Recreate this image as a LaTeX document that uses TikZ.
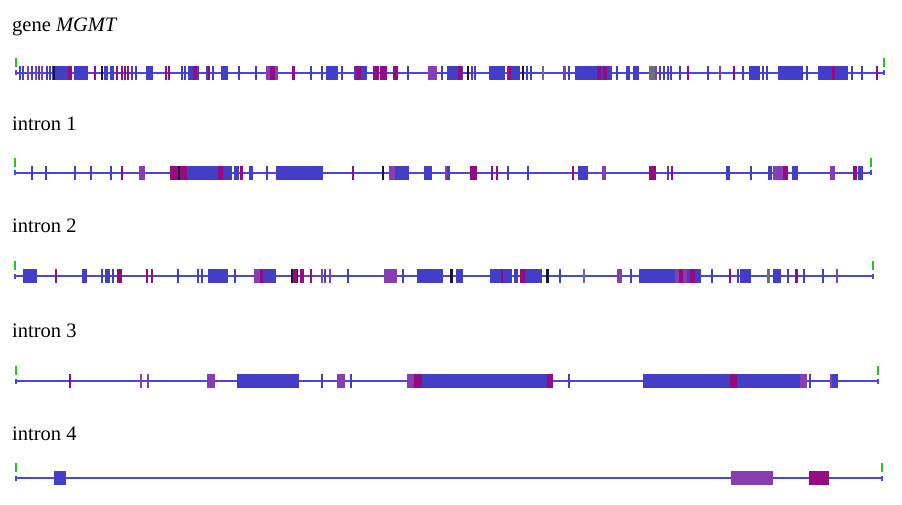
\documentclass[tikz,border=0pt]{standalone}
\usepackage{fontspec}
\setmainfont{Liberation Serif}
\usepackage{tikz}
\definecolor{cblue}{RGB}{66,62,200}
\definecolor{cmag}{RGB}{150,12,128}
\definecolor{cpur}{RGB}{136,62,176}
\definecolor{cdark}{RGB}{30,22,52}
\definecolor{cgray}{RGB}{112,110,124}
\definecolor{cline}{RGB}{72,72,224}
\definecolor{cgreen}{RGB}{30,200,30}
% one row of exons: y, blocks a/b/colour, thin bars x/colour
\newcommand{\exonrow}[3]{%
  \foreach \a/\b/\c in {#2} \fill[\c] (\a,#1-7) rectangle (\b,#1+7);
  \foreach \a/\c in {#3} \fill[\c] (\a-1.1,#1-7) rectangle (\a+1.1,#1+7);}

\begin{document}
\begin{tikzpicture}[x=1pt, y=-1pt,
    lbl/.style={anchor=base west, inner sep=0pt, font=\fontsize{20.5}{23}\selectfont},
    axis/.style={draw=cline, line width=1.4pt},
    endtick/.style={draw=cline, line width=1.2pt},
    gtick/.style={draw=cgreen, line width=1.3pt}
]
    \useasboundingbox (0,0) rectangle (902,505);

    % labels
    \node[lbl] (lbl0) at (12,32) {gene \textit{MGMT}};
    \node[lbl] (lbl1) at (12,131) {intron 1};
    \node[lbl] (lbl2) at (12,233) {intron 2};
    \node[lbl] (lbl3) at (12,337) {intron 3};
    \node[lbl] (lbl4) at (12,440) {intron 4};

    % track ends
    \coordinate (s0) at (16,73);  \coordinate (e0) at (884,73);
    \coordinate (s1) at (15,173); \coordinate (e1) at (871,173);
    \coordinate (s2) at (15,276); \coordinate (e2) at (873,276);
    \coordinate (s3) at (16,381); \coordinate (e3) at (878,381);
    \coordinate (s4) at (16,478); \coordinate (e4) at (882,478);

    \foreach \i in {0,...,4} {
        \draw[axis] (s\i) -- (e\i);
        \draw[endtick] ([yshift=-2.5pt]s\i) -- ([yshift=2.5pt]s\i);
        \draw[endtick] ([yshift=-2.5pt]e\i) -- ([yshift=2.5pt]e\i);
        \draw[gtick] ([yshift=6pt]s\i) -- ([yshift=15pt]s\i);
        \draw[gtick] ([yshift=6pt]e\i) -- ([yshift=15pt]e\i);
    }

    % gene MGMT
    \exonrow{73}{52/72/cblue, 53/55/cdark, 68/72/cmag, 74/88/cblue, 104/108/cblue,
        146/153/cblue, 188/199/cblue, 193/197/cmag, 221/228/cblue, 266/278/cpur,
        270/275/cmag, 292/295/cmag, 326/338/cblue, 354/367/cblue, 356/361/cmag,
        373/379/cmag, 380/387/cmag, 393/398/cmag, 428/437/cpur, 447/463/cblue,
        458/462/cmag, 467/469/cdark, 489/505/cblue, 507/520/cblue, 508/511/cmag,
        522/524/cdark, 563/566/cpur, 575/612/cblue, 597/601/cmag, 603/607/cmag,
        633/639/cblue, 649/655/cgray, 655/657/cpur, 749/760/cblue, 778/803/cblue,
        818/848/cblue, 832/835/cmag}
       {20/cblue, 23/cblue, 28/cpur, 32/cblue, 36/cpur, 39/cblue, 42/cpur, 47/cblue,
        50/cblue, 95/cmag, 102/cdark, 111/cblue, 113/cblue, 117/cmag, 122/cmag,
        125/cmag, 128/cmag, 132/cblue, 136/cblue, 166/cmag, 169/cmag, 182/cblue,
        185/cblue, 207/cblue, 209/cmag, 213/cblue, 239/cblue, 256/cblue, 311/cblue,
        322/cblue, 342/cblue, 408/cblue, 442/cblue, 472/cblue, 475/cblue, 527/cblue,
        531/cblue, 543/cgray, 569/cblue, 617/cblue, 627/cblue, 629/cblue, 660/cblue,
        664/cblue, 668/cblue, 671/cblue, 680/cblue, 688/cmag, 708/cblue, 720/cpur,
        734/cmag, 743/cblue, 763/cblue, 767/cblue, 807/cblue, 852/cblue, 862/cblue,
        877/cmag}

    % intron 1
    \exonrow{173}{139/145/cpur, 170/187/cmag, 178/180/cdark, 187/218/cblue,
        218/223/cmag, 223/232/cblue, 234/239/cblue, 240/243/cmag, 249/253/cblue,
        276/323/cblue, 389/395/cpur, 395/409/cblue, 424/432/cblue, 445/450/cblue,
        470/477/cmag, 578/588/cblue, 602/606/cpur, 649/656/cmag, 726/730/cblue,
        768/772/cblue, 773/783/cpur, 783/788/cmag, 792/798/cblue, 830/835/cpur,
        853/857/cmag, 858/863/cblue}
       {32/cblue, 46/cblue, 75/cblue, 91/cblue, 111/cblue, 122/cmag, 267/cblue,
        353/cmag, 383/cdark, 446/cpur, 492/cmag, 497/cmag, 508/cblue, 528/cblue,
        573/cmag, 668/cblue, 672/cmag, 751/cblue}

    % intron 2
    \exonrow{276}{23/37/cblue, 82/87/cblue, 105/110/cblue, 117/122/cmag,
        208/228/cblue, 254/260/cpur, 260/263/cmag, 263/276/cblue, 291/298/cdark,
        293/297/cmag, 300/304/cmag, 384/397/cpur, 417/443/cblue, 450/453/cdark,
        456/463/cblue, 490/512/cblue, 501/503/cmag, 520/525/cmag, 525/542/cblue,
        546/549/cdark, 617/622/cpur, 639/675/cblue, 675/687/cpur, 679/683/cmag,
        687/690/cblue, 690/695/cmag, 695/701/cblue, 740/751/cblue, 767/770/cgray,
        773/781/cblue, 795/798/cmag}
       {56/cmag, 102/cblue, 113/cblue, 147/cmag, 152/cmag, 178/cblue, 198/cblue,
        202/cblue, 235/cblue, 311/cmag, 322/cpur, 325/cblue, 330/cpur, 348/cblue,
        403/cblue, 441/cblue, 515/cblue, 517/cblue, 560/cblue, 584/cgray, 631/cblue,
        712/cblue, 730/cmag, 738/cblue, 788/cblue, 804/cblue, 823/cblue, 837/cpur}

    % intron 3
    \exonrow{381}{207/215/cpur, 237/299/cblue, 337/345/cpur, 407/414/cpur,
        414/422/cmag, 422/547/cblue, 547/553/cmag, 643/730/cblue, 730/737/cmag,
        737/800/cblue, 800/807/cpur, 830/838/cblue, 830/832/cpur}
       {70/cmag, 141/cpur, 148/cpur, 322/cblue, 351/cblue, 569/cblue, 810/cblue}

    % intron 4
    \exonrow{478}{54/66/cblue, 731/773/cpur, 809/829/cmag}{}
\end{tikzpicture}
\end{document}
